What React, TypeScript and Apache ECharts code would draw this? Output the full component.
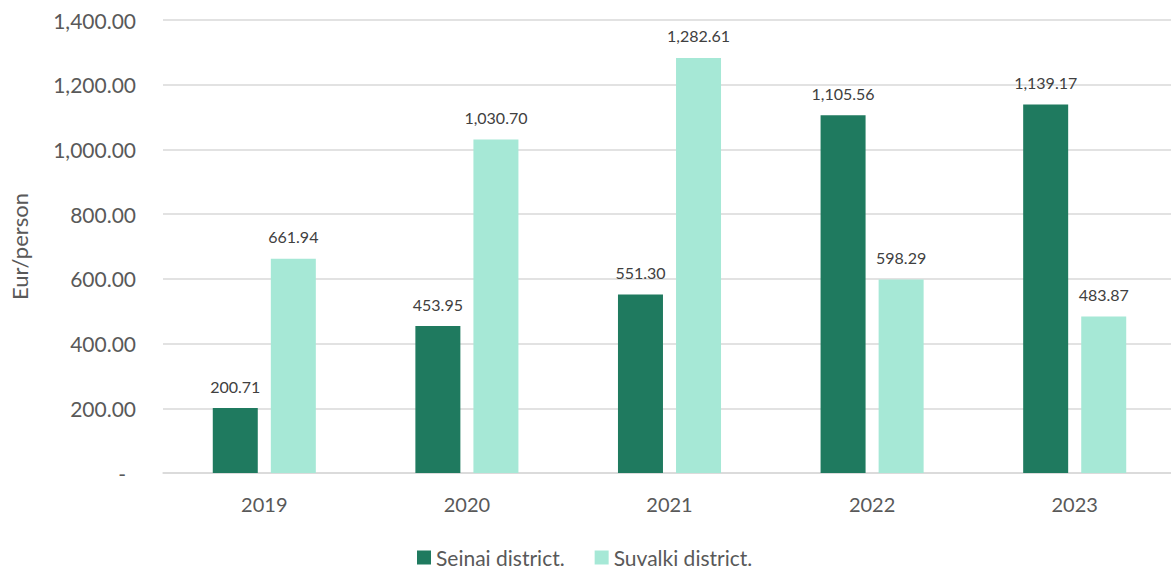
import React, { useEffect, useRef } from "react";
import * as echarts from "echarts";

const categories = ["2019", "2020", "2021", "2022", "2023"];
const seinai = [200.71, 453.95, 551.3, 1105.56, 1139.17];
const suvalki = [661.94, 1030.7, 1282.61, 598.29, 483.87];
const seriesNames = ["Seinai district.", "Suvalki district."];

const FONT = "Lato, 'Noto Sans', sans-serif";
const TXT = "#595959";

const fmt = (v: number) =>
  v.toLocaleString("en-US", { minimumFractionDigits: 2, maximumFractionDigits: 2 });

export default function App() {
  const ref = useRef<HTMLDivElement>(null);
  useEffect(() => {
    if (!ref.current) return;
    const chart = echarts.init(ref.current, null, { renderer: "svg" });
    const label = {
      show: true,
      position: "top",
      distance: 14,
      color: "#404040",
      fontFamily: FONT,
      fontSize: 16,
      formatter: (p: any) => fmt(p.value),
    };
    chart.setOption({
      animation: false,
      textStyle: { fontFamily: FONT },
      grid: { left: 161, top: 20, width: 1015, height: 453 },
      legend: {
        top: 547,
        left: 417,
        padding: 0,
        itemWidth: 14,
        itemHeight: 14,
        itemGap: 30,
        icon: "rect",
        textStyle: { color: TXT, fontSize: 21, fontFamily: FONT },
        data: seriesNames,
      },
      xAxis: {
        type: "category",
        data: categories,
        axisLine: { show: true, lineStyle: { color: "#d9d9d9", width: 1.5 } },
        axisTick: { show: false },
        axisLabel: { color: TXT, fontSize: 20, fontFamily: FONT, margin: 21 },
      },
      yAxis: {
        type: "value",
        min: 0,
        max: 1400,
        interval: 200,
        name: "Eur/person",
        nameLocation: "middle",
        nameGap: 133,
        nameTextStyle: { color: TXT, fontSize: 22, fontFamily: FONT },
        axisLine: { show: false },
        axisTick: { show: false },
        splitLine: { lineStyle: { color: "#d9d9d9", width: 1.5 } },
        axisLabel: {
          color: TXT,
          fontSize: 21,
          fontFamily: FONT,
          margin: 27,
          formatter: (v: number) => (v === 0 ? "{d|-}" : fmt(v)),
          rich: { d: { color: TXT, fontSize: 21, fontFamily: FONT, padding: [0, 10, 0, 0] } },
        },
      },
      series: [
        {
          name: seriesNames[0],
          type: "bar",
          data: seinai,
          barWidth: 45,
          barGap: "29%",
          itemStyle: { color: "#1f7a5f" },
          label,
        },
        {
          name: seriesNames[1],
          type: "bar",
          data: suvalki,
          barWidth: 45,
          barGap: "29%",
          itemStyle: { color: "#a6e8d6" },
          label,
        },
      ],
    });
    return () => chart.dispose();
  }, []);
  return (
    <div
      ref={ref}
      style={{ position: "fixed", left: 0, top: 0, width: 1180, height: 569, background: "#fff" }}
    />
  );
}
